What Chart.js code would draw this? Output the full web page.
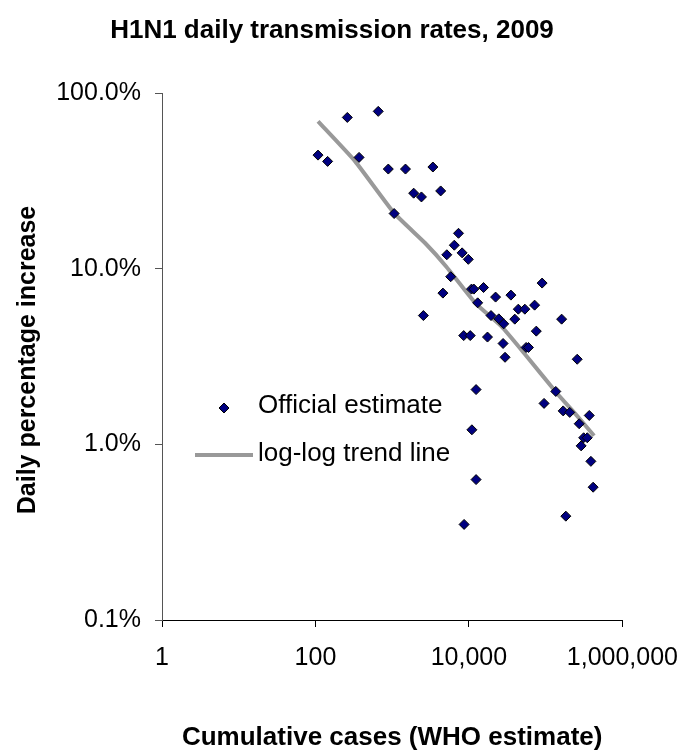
<!DOCTYPE html>
<html lang="en">
<head>
<meta charset="UTF-8">
<title>H1N1 daily transmission rates, 2009</title>
<script src="https://cdn.jsdelivr.net/npm/chart.js"></script>
<style>
  html, body { margin: 0; padding: 0; background: #fff; }
</style>
</head>
<body>
<canvas id="chart" width="694" height="752"></canvas>
<script>
// cumulative cases (WHO estimate) and daily % increase
const cases = [108, 144, 260, 370, 658, 890, 1060, 1490, 1905, 2405, 2550, 3390, 4285, 4580, 5150,
  5790, 6450, 7315, 8150, 8550, 8650, 9810, 10400, 10800, 10930, 11600, 12390, 12390, 13000, 15500,
  17460, 19400, 22250, 24500, 27870, 28400, 29560, 35250, 39600, 44000, 53550, 55640, 59700, 71800, 75500,
  89900, 95300, 135500, 161500, 169200, 183200, 206000, 257800, 273500, 290000, 312800, 348500, 370000, 388400, 415700];
const rates = [0.443, 0.408, 0.726, 0.430, 0.786, 0.369, 0.206, 0.369, 0.269, 0.256, 0.0541, 0.379, 0.277, 0.0726, 0.120,
  0.090, 0.136, 0.159, 0.123, 0.0416, 0.0035, 0.113, 0.0416, 0.0765, 0.0121, 0.0765, 0.0205, 0.0063, 0.0639, 0.0781,
  0.0408, 0.0541, 0.0689, 0.0518, 0.0375, 0.0485, 0.0313, 0.0707, 0.0516, 0.0588, 0.0588, 0.0356, 0.0356, 0.0620, 0.0441,
  0.0828, 0.0171, 0.0200, 0.0516, 0.0155, 0.0039, 0.0152, 0.0305, 0.0131, 0.0098, 0.0109, 0.0109, 0.0146, 0.0080, 0.0057];

// trend line as drawn
const trendCases = [108, 329, 1060, 2681, 5046, 12140, 26540, 52480, 139400, 250400, 427700];
const trendRates = [0.689, 0.408, 0.207, 0.140, 0.103, 0.0637, 0.0469, 0.0330, 0.0196, 0.0147, 0.0112];

const xTicks = [1, 100, 10000, 1000000];
const xTickLabels = ['1', '100', '10,000', '1,000,000'];
const yTicks = [0.001, 0.01, 0.1, 1];
const yTickLabels = ['0.1%', '1.0%', '10.0%', '100.0%'];

const seriesNames = ['Official estimate', 'log-log trend line'];
const chartTitle = 'H1N1 daily transmission rates, 2009';
const xTitle = 'Cumulative cases (WHO estimate)';
const yTitle = 'Daily percentage increase';

const FONT = '"Liberation Sans", Arial, sans-serif';

const overlay = {
  id: 'overlay',
  afterDraw(chart) {
    const ctx = chart.ctx;
    const area = chart.chartArea;
    ctx.save();
    ctx.fillStyle = '#000';
    ctx.textAlign = 'center';
    ctx.textBaseline = 'middle';
    ctx.font = 'bold 26px ' + FONT;
    ctx.fillText(chartTitle, 332, 31);
    ctx.fillText(xTitle, (area.left + area.right) / 2, 738);
    ctx.save();
    ctx.font = 'bold 25px ' + FONT;
    ctx.translate(28, 360);
    ctx.rotate(-Math.PI / 2);
    ctx.fillText(yTitle, 0, 0);
    ctx.restore();

    // legend inside the plot
    const pts = chart.data.datasets[0];
    const ln = chart.data.datasets[1];
    ctx.font = '26px ' + FONT;
    ctx.textAlign = 'left';
    ctx.fillStyle = pts.backgroundColor;
    ctx.strokeStyle = pts.borderColor;
    Chart.helpers.drawPoint(ctx, { pointStyle: 'rectRot', radius: pts.pointRadius, borderWidth: pts.borderWidth }, 224, 408);
    ctx.fillStyle = '#000';
    ctx.fillText(seriesNames[0], 258, 406);
    ctx.strokeStyle = ln.borderColor;
    ctx.lineWidth = ln.borderWidth;
    ctx.beginPath();
    ctx.moveTo(195, 455);
    ctx.lineTo(253, 455);
    ctx.stroke();
    ctx.fillText(seriesNames[1], 258, 454);
    ctx.restore();
  }
};

new Chart(document.getElementById('chart'), {
  type: 'scatter',
  data: {
    datasets: [{
      label: seriesNames[0],
      data: cases.map((c, i) => ({ x: c, y: rates[i] })),
      pointStyle: 'rectRot',
      pointRadius: 5,
      backgroundColor: '#000080',
      borderColor: '#000000',
      borderWidth: 1,
      order: 0
    }, {
      label: seriesNames[1],
      data: trendCases.map((c, i) => ({ x: c, y: trendRates[i] })),
      showLine: true,
      pointRadius: 0,
      borderColor: '#999999',
      borderWidth: 4,
      tension: 0.15,
      order: 1
    }]
  },
  options: {
    responsive: false,
    animation: false,
    devicePixelRatio: 1,
    layout: { padding: { top: 93, right: 60, left: 0, bottom: 0 } },
    plugins: {
      legend: { display: false },
      tooltip: { enabled: false }
    },
    scales: {
      x: {
        type: 'logarithmic',
        min: 1,
        max: 1000000,
        afterBuildTicks: s => { s.ticks = xTicks.map(v => ({ value: v })); },
        afterFit: s => { s.height = 132; },
        ticks: {
          autoSkip: false,
          maxRotation: 0,
          padding: 16,
          color: '#000',
          font: { family: FONT, size: 25 },
          callback: v => xTickLabels[xTicks.indexOf(v)]
        },
        grid: { drawOnChartArea: false, drawTicks: true, tickLength: 7, color: '#000' },
        border: { color: '#000', width: 1 }
      },
      y: {
        type: 'logarithmic',
        min: 0.001,
        max: 1,
        afterBuildTicks: s => { s.ticks = yTicks.map(v => ({ value: v })); },
        afterFit: s => { s.width = 162; },
        ticks: {
          autoSkip: false,
          padding: 14,
          color: '#000',
          font: { family: FONT, size: 25 },
          callback: v => yTickLabels[yTicks.indexOf(v)]
        },
        grid: { drawOnChartArea: false, drawTicks: true, tickLength: 7, color: '#555' },
        border: { color: '#555', width: 1 }
      }
    }
  },
  plugins: [overlay]
});
</script>
</body>
</html>
